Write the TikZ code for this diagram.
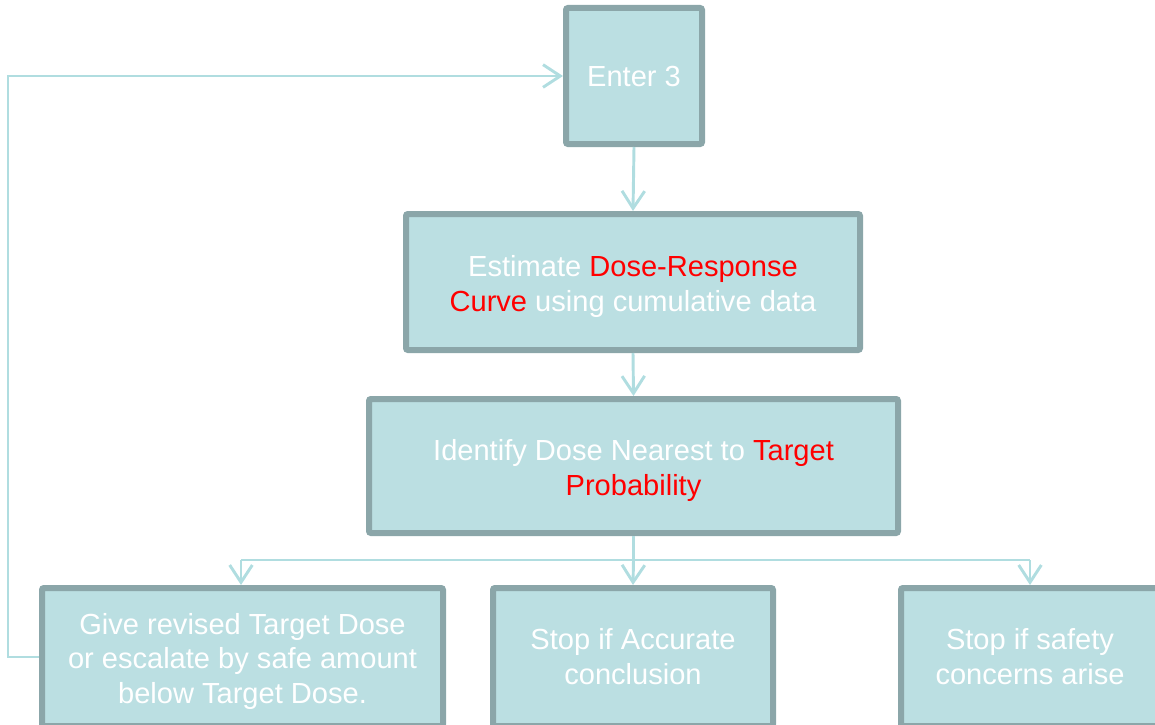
\documentclass[tikz,border=0pt]{standalone}
\usepackage{fontspec}
\setmainfont{Liberation Sans}
\usetikzlibrary{arrows.meta}
\definecolor{boxfill}{HTML}{BBDFE2}
\definecolor{boxline}{HTML}{8BA6A9}
\definecolor{conn}{HTML}{B0DDE0}
\definecolor{hl}{HTML}{FF0000}
\newcommand{\topfix}{\rule{0pt}{22.5pt}}
\tikzset{
  stepbox/.style={draw=boxline, fill=boxfill, line width=4.5pt, rounded corners=1.5pt,
    text=white, align=center, inner sep=0pt,
    font=\fontsize{21.8}{26.2}\selectfont},
  conline/.style={draw=conn, line width=2.2pt},
  arr/.style={conline, -{Straight Barb[length=13pt, width=17pt, line width=2.2pt]}}
}
\begin{document}
\begin{tikzpicture}[x=0.75pt, y=-0.75pt]
\useasboundingbox (0,0) rectangle (1155,724);
\clip (0,0) rectangle (1155,724);

\node[stepbox, minimum width=102pt, minimum height=102pt] (enter) at (634,76) {Enter 3};
\node[stepbox, minimum width=340.5pt, minimum height=102pt] (est) at (633,282)
  {\topfix Estimate \textcolor{hl}{Dose-Response}\\\textcolor{hl}{Curve} using cumulative data};
\node[stepbox, minimum width=396.75pt, minimum height=100.5pt] (ident) at (633.5,466)
  {\topfix Identify Dose Nearest to \textcolor{hl}{Target}\\\textcolor{hl}{Probability}};
\node[stepbox, minimum width=300.75pt, minimum height=103.5pt] (give) at (242.5,657)
  {\topfix Give revised Target Dose\\or escalate by safe amount\\below Target Dose.};
\node[stepbox, minimum width=210pt, minimum height=103.5pt] (acc) at (633,657)
  {Stop if Accurate\\conclusion};
\node[stepbox, minimum width=193.5pt, minimum height=103.5pt] (safe) at (1030,657)
  {Stop if safety\\concerns arise};

\draw[arr] (enter.south) -- (est.north);
\draw[arr] (est.south) -- (ident.north);

\coordinate (bus) at (633.5,560);
\coordinate (busL) at (241,560);
\coordinate (busR) at (1030,560);
\draw[conline] (ident.south) -- (bus);
\draw[conline] (busL) -- (busR);
\draw[arr] (busL) -- (busL |- give.north);
\draw[arr] (bus) -- (acc.north);
\draw[arr] (busR) -- (safe.north);

\coordinate (fb1) at (8,657);
\coordinate (fb2) at (8,76);
\draw[arr] (give.west) -- (fb1) -- (fb2) -- (enter.west);
\end{tikzpicture}
\end{document}
